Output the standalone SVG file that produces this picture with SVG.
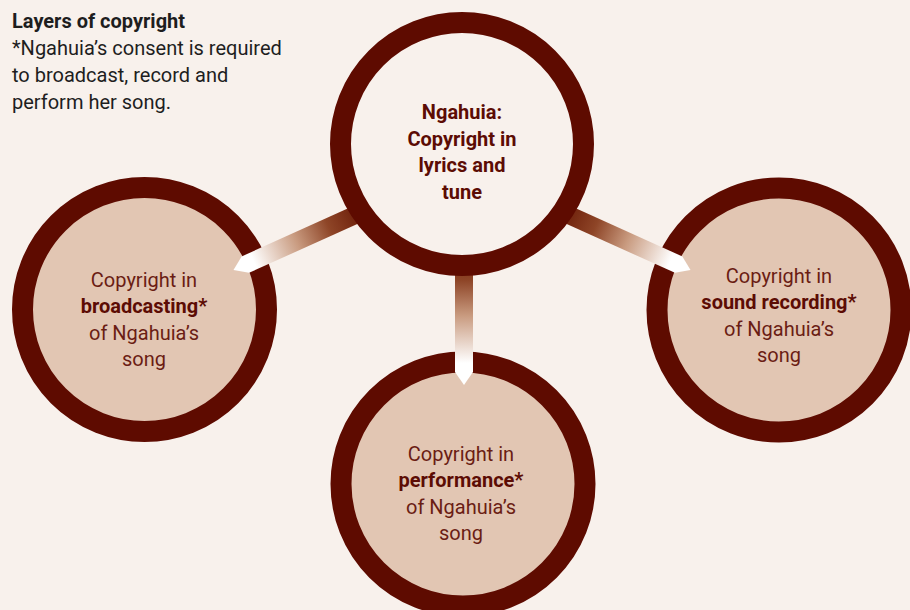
<svg xmlns="http://www.w3.org/2000/svg" width="910" height="610" viewBox="0 0 910 610">
<style>
  .ring { stroke: #5e0b00; stroke-width: 21; }
  .outer { fill: #e2c6b3; }
  .inner { fill: #f8f1ec; }
  .t { font-family: Roboto, "Liberation Sans", sans-serif; font-size: 20px; fill: #6b1d14; text-anchor: middle; }
  .b { font-weight: bold; fill: #5c0c04; }
  .cap { font-family: Roboto, "Liberation Sans", sans-serif; font-size: 20px; fill: #1e1e1e; }
</style>
<defs>
  <linearGradient id="ag" gradientUnits="userSpaceOnUse" x1="140" y1="0" x2="22" y2="0">
    <stop offset="0" stop-color="#6b1c08"/>
    <stop offset="0.3" stop-color="#8e4527"/>
    <stop offset="0.6" stop-color="#c99b80"/>
    <stop offset="1" stop-color="#ffffff"/>
  </linearGradient>
  <path id="arrow" d="M0,0 L13,-9 L150,-9 L150,9 L13,9 Z" fill="url(#ag)"/>
</defs>
<rect width="910" height="610" fill="#f8f1ec"/>

<g id="caption">
  <text class="cap" x="12" y="28" font-weight="bold">Layers of copyright</text>
  <text class="cap" x="12" y="55">*Ngahuia’s consent is required</text>
  <text class="cap" x="12" y="82">to broadcast, record and</text>
  <text class="cap" x="12" y="109">perform her song.</text>
</g>

<g id="node-broadcasting">
  <circle class="ring outer" cx="144.5" cy="309.5" r="122"/>
  <text class="t" x="144" y="287">Copyright in</text>
  <text class="t b" x="144" y="313">broadcasting*</text>
  <text class="t" x="144" y="340">of Ngahuia’s</text>
  <text class="t" x="144" y="366">song</text>
</g>

<g id="node-sound-recording">
  <circle class="ring outer" cx="779" cy="310" r="122"/>
  <text class="t" x="779" y="283">Copyright in</text>
  <text class="t b" x="779" y="309">sound recording*</text>
  <text class="t" x="779" y="336">of Ngahuia’s</text>
  <text class="t" x="779" y="362">song</text>
</g>

<g id="node-performance">
  <circle class="ring outer" cx="463" cy="484" r="122"/>
  <text class="t" x="461" y="461">Copyright in</text>
  <text class="t b" x="461" y="487">performance*</text>
  <text class="t" x="461" y="514">of Ngahuia’s</text>
  <text class="t" x="461" y="540">song</text>
</g>

<g id="connectors">
  <use href="#arrow" transform="translate(233.5,270) rotate(-24.3)"/>
  <use href="#arrow" transform="translate(690.5,270) rotate(204.3)"/>
  <use href="#arrow" transform="translate(464,385) rotate(-90)"/>
</g>

<g id="node-ngahuia">
  <circle class="ring inner" cx="462" cy="144" r="121.5"/>
  <text class="t b" x="462" y="119">Ngahuia:</text>
  <text class="t b" x="462" y="146">Copyright in</text>
  <text class="t b" x="462" y="172">lyrics and</text>
  <text class="t b" x="462" y="199">tune</text>
</g>
</svg>
